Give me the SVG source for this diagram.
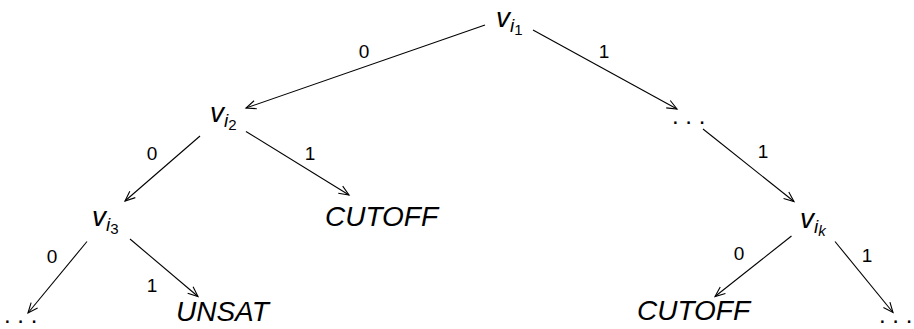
<svg xmlns="http://www.w3.org/2000/svg" width="914" height="329" viewBox="0 0 914 329">
  <defs>
    <style>
      .node { font-family: "Liberation Sans", Arial, sans-serif; font-style: italic; font-size: 28px; fill: #000; }
      .sub { font-size: 19px; }
      .subsub { font-size: 15px; font-style: normal; }
      .dots { font-family: "Liberation Sans", Arial, sans-serif; font-size: 24px; fill: #000; }
      .lbl { font-family: "Liberation Sans", Arial, sans-serif; font-size: 19px; fill: #000; text-anchor: middle; }
      .edge { stroke: #000; stroke-width: 1.1; fill: none; marker-end: url(#arrow); }
    </style>
    <marker id="arrow" markerUnits="userSpaceOnUse" markerWidth="14" markerHeight="12" viewBox="-12 -6 14 12" refX="0" refY="0" orient="auto">
      <path d="M -10 -4.2 L 0 0 L -10 4.2" fill="none" stroke="#000" stroke-width="1.1"/>
    </marker>
  </defs>

  <!-- nodes -->
  <g id="n-vi1"><text class="node" x="496" y="27">v<tspan class="sub" dy="5">i</tspan><tspan class="subsub" dy="3">1</tspan></text></g>
  <g id="n-vi2"><text class="node" x="210" y="122">v<tspan class="sub" dy="5">i</tspan><tspan class="subsub" dy="3">2</tspan></text></g>
  <g id="n-vi3"><text class="node" x="92" y="226">v<tspan class="sub" dy="5">i</tspan><tspan class="subsub" dy="3">3</tspan></text></g>
  <g id="n-vik"><text class="node" x="800" y="228">v<tspan class="sub" dy="5">i</tspan><tspan class="subsub" style="font-style:italic" dy="3">k</tspan></text></g>
  <g id="n-dots-mid"><text class="dots" x="672" y="124">. . .</text></g>
  <g id="n-cutoff-mid"><text class="node" x="325" y="226">CUTOFF</text></g>
  <g id="n-dots-left"><text class="dots" x="4" y="323">. . .</text></g>
  <g id="n-unsat"><text class="node" x="176" y="321">UNSAT</text></g>
  <g id="n-cutoff-right"><text class="node" x="637" y="320">CUTOFF</text></g>
  <g id="n-dots-right"><text class="dots" x="879" y="323">. . .</text></g>

  <!-- connectors -->
  <g id="connectors">
    <line class="edge" x1="485" y1="25" x2="246" y2="108"/>
    <line class="edge" x1="533" y1="30" x2="677" y2="109"/>
    <line class="edge" x1="703" y1="129" x2="794" y2="201.5"/>
    <line class="edge" x1="200" y1="136" x2="125" y2="201"/>
    <line class="edge" x1="246" y1="131.5" x2="349" y2="195"/>
    <line class="edge" x1="87" y1="241.5" x2="28" y2="313"/>
    <line class="edge" x1="130" y1="239" x2="198" y2="296.5"/>
    <line class="edge" x1="791.5" y1="236" x2="715" y2="296.5"/>
    <line class="edge" x1="835" y1="241.5" x2="893" y2="312.5"/>

    <text class="lbl" x="364" y="58">0</text>
    <text class="lbl" x="604" y="58">1</text>
    <text class="lbl" x="763" y="158">1</text>
    <text class="lbl" x="152" y="159.5">0</text>
    <text class="lbl" x="310" y="159.5">1</text>
    <text class="lbl" x="52" y="263">0</text>
    <text class="lbl" x="152" y="291.5">1</text>
    <text class="lbl" x="739" y="259.5">0</text>
    <text class="lbl" x="867" y="261.5">1</text>
  </g>
</svg>
